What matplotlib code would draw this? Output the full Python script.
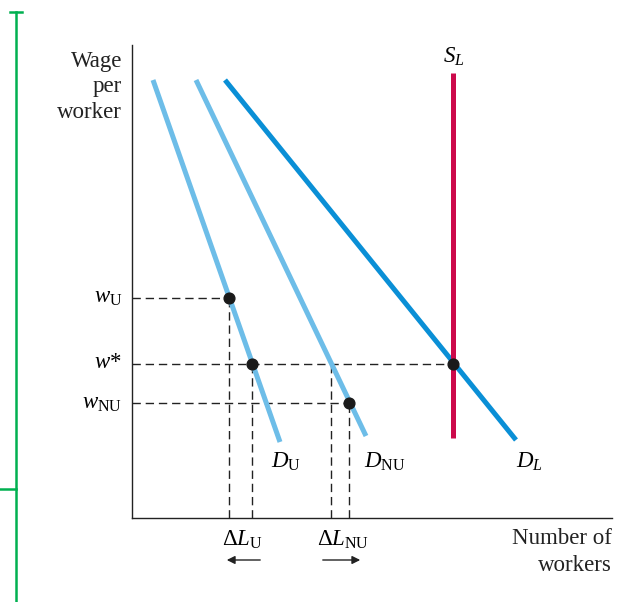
import matplotlib
matplotlib.use("Agg")
import matplotlib.pyplot as plt
from matplotlib.lines import Line2D

plt.rcParams['font.family'] = ['Liberation Serif', 'DejaVu Serif']
plt.rcParams['mathtext.fontset'] = 'custom'
plt.rcParams['mathtext.rm'] = 'Liberation Serif'
plt.rcParams['mathtext.it'] = 'Liberation Serif:italic'

# Curve endpoints (x = number of workers, y = wage), in chart units
d_u_x = [21, 148]
d_u_y = [438, 76]
d_nu_x = [64, 234]
d_nu_y = [438, 82]
d_l_x = [93, 384]
d_l_y = [438, 78]
s_l_x = [321, 321]
s_l_y = [445, 80]

# Equilibrium points
w_u = 220
w_star = 154
w_nu = 115
pt_x = [97, 120, 321, 217]
pt_y = [w_u, w_star, w_star, w_nu]
l_nu_star = 199  # D_NU at w*

LIGHT = '#6dbde8'
DARK = '#0a8fd6'
RED = '#cc0a4b'

fig = plt.figure(figsize=(6.44, 6.02), dpi=100)
ax = fig.add_axes([132/644, 84/602, 480/644, 473/602])
ax.set_xlim(0, 480)
ax.set_ylim(0, 473)
for s in ['top', 'right']:
    ax.spines[s].set_visible(False)
for s in ['left', 'bottom']:
    ax.spines[s].set_linewidth(1.0)
    ax.spines[s].set_color('#222222')
ax.set_xticks([])
ax.set_yticks([])

dash = dict(color='#222222', lw=1.0, ls=(0, (6, 3.5)), zorder=1)
# horizontal dashed
ax.plot([0, pt_x[0]], [w_u, w_u], **dash)
ax.plot([0, pt_x[2]], [w_star, w_star], **dash)
ax.plot([0, pt_x[3]], [w_nu, w_nu], **dash)
# vertical dashed
ax.plot([pt_x[0], pt_x[0]], [0, w_u], **dash)
ax.plot([pt_x[1], pt_x[1]], [0, w_star], **dash)
ax.plot([l_nu_star, l_nu_star], [0, w_star], **dash)
ax.plot([pt_x[3], pt_x[3]], [0, w_nu], **dash)

ax.plot(d_u_x, d_u_y, color=LIGHT, lw=3.6, solid_capstyle='butt', zorder=2)
ax.plot(d_nu_x, d_nu_y, color=LIGHT, lw=3.6, solid_capstyle='butt', zorder=2)
ax.plot(d_l_x, d_l_y, color=DARK, lw=3.6, solid_capstyle='butt', zorder=2)
ax.plot(s_l_x, s_l_y, color=RED, lw=3.6, solid_capstyle='butt', zorder=3)
ax.scatter(pt_x, pt_y, s=60, color='#1a1a1a', zorder=5)

fs = 16.5
ax.text(-10, 467, 'Wage\nper\nworker', ha='right', va='top', fontsize=fs,
        linespacing=1.28, color='#222222')
ax.text(-10, w_u, r'$w_{\mathrm{U}}$', ha='right', va='center', fontsize=fs)
ax.text(-10, w_star + 2, r'$w$*', ha='right', va='center', fontsize=fs)
ax.text(-10, w_nu, r'$w_{\mathrm{NU}}$', ha='right', va='center', fontsize=fs)

ax.text(139, 56, r'$D_{\mathrm{U}}$', ha='left', va='center', fontsize=fs)
ax.text(232, 56, r'$D_{\mathrm{NU}}$', ha='left', va='center', fontsize=fs)
ax.text(384, 56, r'$D_L$', ha='left', va='center', fontsize=fs)
ax.text(322, 461, r'$S_L$', ha='center', va='center', fontsize=fs)

ax.text(110, -22, r'$\Delta L_{\mathrm{U}}$', ha='center', va='center', fontsize=fs,
        clip_on=False)
ax.text(211, -22, r'$\Delta L_{\mathrm{NU}}$', ha='center', va='center', fontsize=fs,
        clip_on=False)
arr = dict(arrowstyle='-|>', color='#222222', lw=1.0, mutation_scale=12)
ax.annotate('', xy=(92, -42), xytext=(131, -42), arrowprops=arr,
            annotation_clip=False)
ax.annotate('', xy=(231, -42), xytext=(188, -42), arrowprops=arr,
            annotation_clip=False)

ax.text(480, -10, 'Number of\nworkers', ha='right', va='top', fontsize=fs,
        linespacing=1.38, color='#222222')

# green margin bracket
G = '#00b050'
fig.add_artist(Line2D([16/644, 16/644], [0, 1 - 12/602], color=G, lw=1.8,
                      transform=fig.transFigure))
fig.add_artist(Line2D([10/644, 22/644], [1 - 12/602, 1 - 12/602], color=G,
                      lw=1.8, transform=fig.transFigure))
fig.add_artist(Line2D([0, 16/644], [1 - 489/602, 1 - 489/602], color=G,
                      lw=1.8, transform=fig.transFigure))

fig.savefig('out.png', dpi=100)
